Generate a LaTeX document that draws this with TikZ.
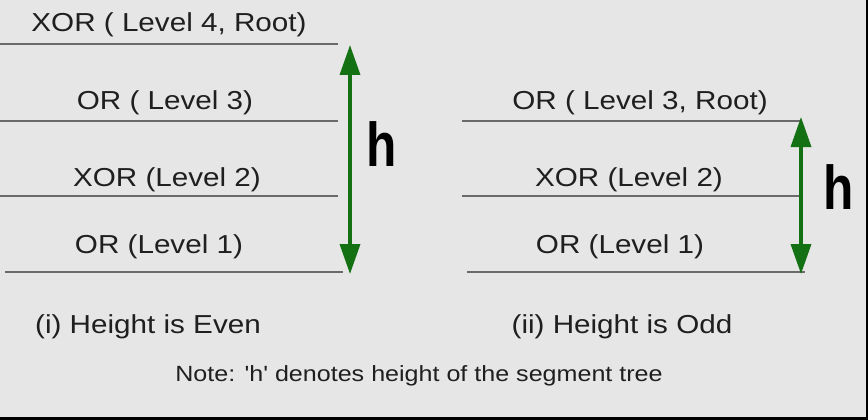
\documentclass[tikz,border=0pt]{standalone}
\usepackage{fontspec}
\setmainfont{Liberation Sans}[FakeStretch=1.14,Ligatures=TeXOff]
\newfontfamily\hfont{Liberation Sans}[FakeStretch=0.8]
\usetikzlibrary{arrows.meta}
\definecolor{Board}{HTML}{E6E6E6}
\definecolor{HeightGreen}{HTML}{137013}
\definecolor{RuleGray}{HTML}{6A6A6A}

\begin{document}
\begin{tikzpicture}[x=1pt,y=-1pt]
  \tikzstyle{LabelStyle}=[anchor=base,inner sep=0pt,text=black!88,
                          font=\fontsize{26}{30}\selectfont]
  \tikzstyle{NoteStyle}=[anchor=base,inner sep=0pt,text=black!88,
                         font=\fontsize{22}{26}\selectfont]
  \tikzstyle{RuleStyle}=[draw=RuleGray,line width=1.3pt]
  \tikzstyle{HeightStyle}=[draw=HeightGreen,line width=3.5pt,
    {Triangle[width=20pt,length=30pt]}-{Triangle[width=20pt,length=30pt]}]
  \tikzstyle{HStyle}=[inner sep=0pt,font=\hfont\bfseries\fontsize{62}{62}\selectfont]
  \fill[Board] (0,0) rectangle (868,420);
  \fill[black] (866,0) rectangle (868,420);
  \fill[black] (0,417) rectangle (868,420);
  \useasboundingbox (0,0) rectangle (868,420);
  % (i) even height
  \node[LabelStyle] (EvenL4) at (169,32)  {XOR ( Level 4, Root)};
  \node[LabelStyle] (EvenL3) at (165,110) {OR ( Level 3)};
  \node[LabelStyle] (EvenL2) at (167,186) {XOR (Level 2)};
  \node[LabelStyle] (EvenL1) at (159,253) {OR (Level 1)};
  \coordinate (EvenR4a) at (0,44);   \coordinate (EvenR4b) at (338,44);
  \coordinate (EvenR3a) at (0,121);  \coordinate (EvenR3b) at (338,121);
  \coordinate (EvenR2a) at (0,196);  \coordinate (EvenR2b) at (338,196);
  \coordinate (EvenR1a) at (5,272);  \coordinate (EvenR1b) at (343,272);
  \draw[RuleStyle] (EvenR4a) -- (EvenR4b);
  \draw[RuleStyle] (EvenR3a) -- (EvenR3b);
  \draw[RuleStyle] (EvenR2a) -- (EvenR2b);
  \draw[RuleStyle] (EvenR1a) -- (EvenR1b);
  \coordinate (EvenTop) at (350,45);
  \coordinate (EvenBot) at (350,274);
  \draw[HeightStyle] (EvenTop) -- (EvenBot);
  \node[HStyle] (EvenH) at (382,144) {h};
  \node[LabelStyle] (EvenCap) at (148,333) {(i) Height is Even};
  % (ii) odd height
  \node[LabelStyle] (OddL3) at (640,110) {OR ( Level 3, Root)};
  \node[LabelStyle] (OddL2) at (629,186) {XOR (Level 2)};
  \node[LabelStyle] (OddL1) at (620,253) {OR (Level 1)};
  \coordinate (OddR3a) at (462,121);  \coordinate (OddR3b) at (800,121);
  \coordinate (OddR2a) at (462,196);  \coordinate (OddR2b) at (800,196);
  \coordinate (OddR1a) at (467,272);  \coordinate (OddR1b) at (805,272);
  \draw[RuleStyle] (OddR3a) -- (OddR3b);
  \draw[RuleStyle] (OddR2a) -- (OddR2b);
  \draw[RuleStyle] (OddR1a) -- (OddR1b);
  \coordinate (OddTop) at (801,117);
  \coordinate (OddBot) at (801,274);
  \draw[HeightStyle] (OddTop) -- (OddBot);
  \node[HStyle] (OddH) at (839,187) {h};
  \node[LabelStyle] (OddCap) at (622,333) {(ii) Height is Odd};
  \node[NoteStyle] (Note) at (419,381) {Note: 'h' denotes height of the segment tree};
\end{tikzpicture}
\end{document}
